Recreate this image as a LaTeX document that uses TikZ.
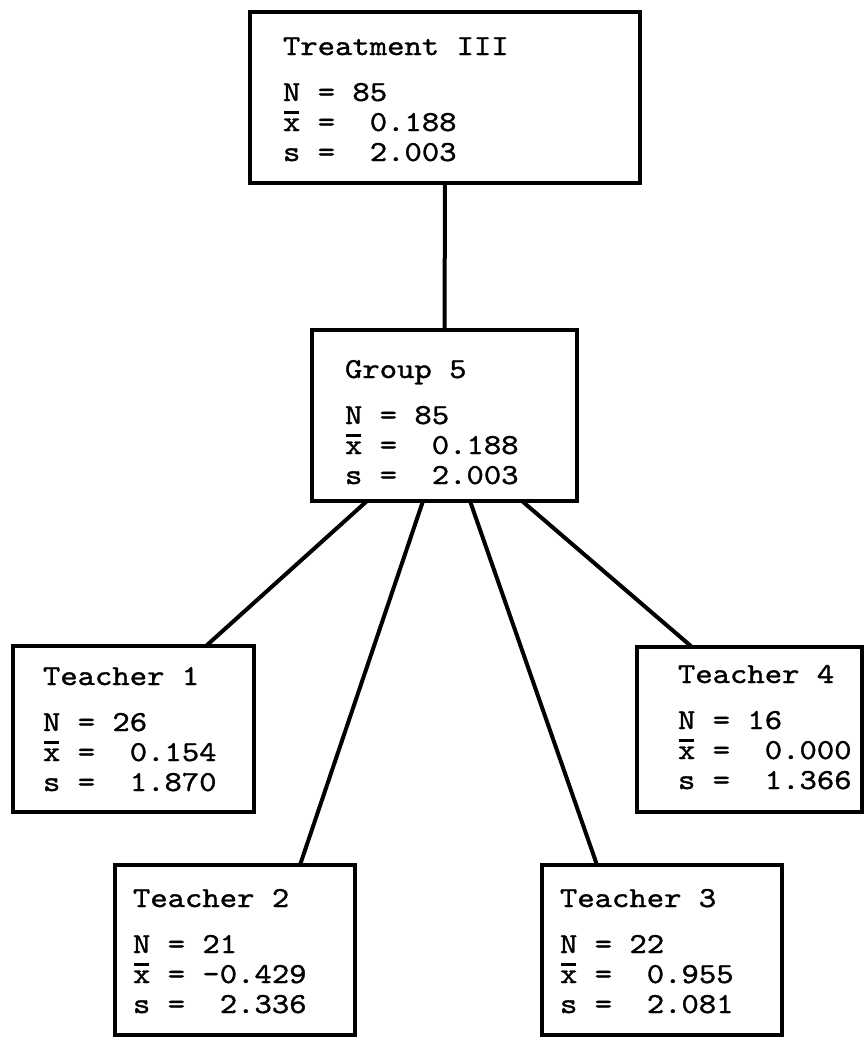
\documentclass[tikz,border=0pt]{standalone}
\usepackage{fontspec}
% slab-serif typewriter face, slightly widened and thickened
\newfontfamily\tw{lmmono10-regular.otf}[FakeBold=1.2, FakeStretch=1.14]
% x-bar: a bar set over a typewriter x
\newcommand\xbar{\leavevmode\rlap{\hspace{0.05em}\rule[0.6em]{0.5em}{0.1em}}x}
% fixed ascent for the first line
\newcommand\topstrut{\rule{0pt}{26pt}}
\begin{document}
\begin{tikzpicture}[x=1pt,y=-1pt,
  statbox/.style={draw, line width=4.5pt, rectangle, anchor=north west,
    inner sep=0pt, outer sep=0pt},
  stattext/.style={anchor=north west, inner sep=0pt, outer sep=0pt, align=left,
    font=\tw\fontsize{29}{30}\selectfont},
  link/.style={line width=4pt}]
\useasboundingbox (0,0) rectangle (866,1038);

% boxes
\node[statbox, minimum width=390pt, minimum height=171pt] (tr) at (250,12) {};
\node[statbox, minimum width=265pt, minimum height=171pt] (g5) at (312,330) {};
\node[statbox, minimum width=241pt, minimum height=166pt] (t1) at (13,646) {};
\node[statbox, minimum width=225pt, minimum height=165pt] (t4) at (637,647) {};
\node[statbox, minimum width=240pt, minimum height=170pt] (t2) at (115,865) {};
\node[statbox, minimum width=240pt, minimum height=170pt] (t3) at (542,865) {};

% texts
\node[stattext] (trtext) at (283,29) {\topstrut Treatment III\\[16pt]
  N = 85\\ \xbar{} = \ 0.188\\ s = \ 2.003};
\node[stattext] (g5text) at (345,352) {\topstrut Group 5\\[16pt]
  N = 85\\ \xbar{} = \ 0.188\\ s = \ 2.003};
\node[stattext] (t1text) at (43,659) {\topstrut Teacher 1\\[16pt]
  N = 26\\ \xbar{} = \ 0.154\\ s = \ 1.870};
\node[stattext] (t4text) at (678,657) {\topstrut Teacher 4\\[16pt]
  N = 16\\ \xbar{} = \ 0.000\\ s = \ 1.366};
\node[stattext] (t2text) at (133,881) {\topstrut Teacher 2\\[16pt]
  N = 21\\ \xbar{} = -0.429\\ s = \ 2.336};
\node[stattext] (t3text) at (560,881) {\topstrut Teacher 3\\[16pt]
  N = 22\\ \xbar{} = \ 0.955\\ s = \ 2.081};

% connectors
\draw[link] (tr.south) -- (g5.north);
\draw[link] ([xshift=55pt]g5.south west) -- ([xshift=193pt]t1.north west);
\draw[link] ([xshift=111pt]g5.south west) -- ([xshift=185pt]t2.north west);
\draw[link] ([xshift=158pt]g5.south west) -- ([xshift=55pt]t3.north west);
\draw[link] ([xshift=210pt]g5.south west) -- ([xshift=55pt]t4.north west);
\end{tikzpicture}
\end{document}
